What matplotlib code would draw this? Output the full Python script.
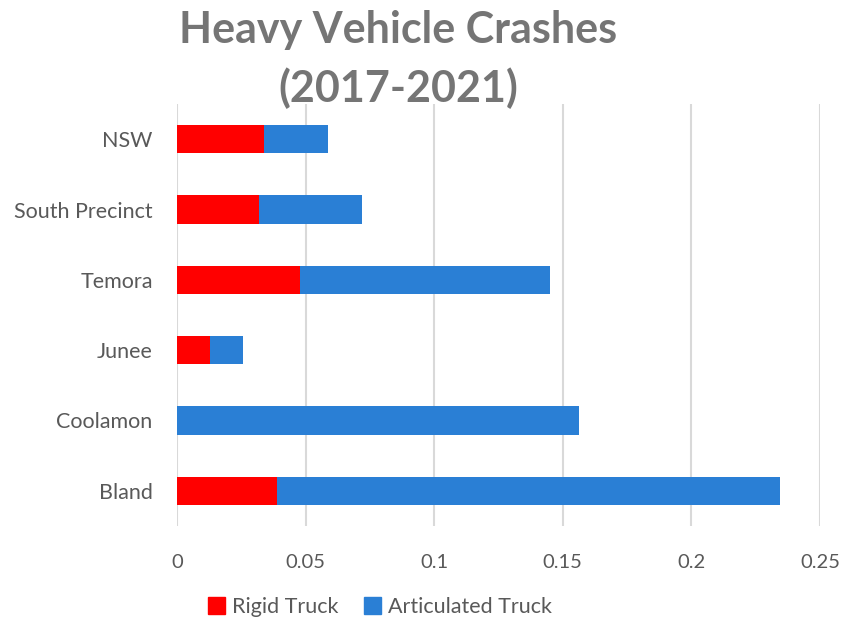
import matplotlib
matplotlib.use("Agg")
import matplotlib.pyplot as plt
from matplotlib.patches import Patch

categories = ["NSW", "South Precinct", "Temora", "Junee", "Coolamon", "Bland"]
rigid = [0.0337, 0.0317, 0.0478, 0.0127, 0.0, 0.0389]
articulated = [0.0251, 0.0401, 0.0971, 0.0131, 0.1563, 0.1955]
xticks = [0, 0.05, 0.1, 0.15, 0.2, 0.25]
xticklabels = ["0", "0.05", "0.1", "0.15", "0.2", "0.25"]

plt.rcParams['font.family'] = ['Lato', 'DejaVu Sans']

fig = plt.figure(figsize=(8.43, 6.21), dpi=100)
ax = fig.add_axes([177/843, (621-526)/621, (820-177)/843, 422/621])

y = list(range(len(categories)))
red = "#FF0000"
blue = "#2A7FD5"
ax.barh(y, rigid, height=0.4, color=red, zorder=3)
ax.barh(y, articulated, left=rigid, height=0.4, color=blue, zorder=3)

ax.set_ylim(len(categories) - 0.5, -0.5)
ax.set_xlim(0, 0.25)
ax.set_yticks(y)
ax.set_yticklabels(categories)
ax.set_xticks(xticks)
ax.set_xticklabels(xticklabels)
ax.tick_params(axis='both', length=0, colors="#595959")
ax.tick_params(axis='y', pad=17.5, labelsize=15.5)
ax.tick_params(axis='x', pad=20, labelsize=14.5)
ax.grid(axis='x', color="#D9D9D9", linewidth=1.5, zorder=0)
for s in ax.spines.values():
    s.set_visible(False)

fig.text(398/843, 1 - 30/621, "Heavy Vehicle Crashes", ha='center', va='center',
         fontsize=31, fontweight='bold', color="#757575")
fig.text(398/843, 1 - 88/621, "(2017-2021)", ha='center', va='center',
         fontsize=31, fontweight='bold', color="#757575")

handles = [Patch(color=red, label="Rigid Truck"), Patch(color=blue, label="Articulated Truck")]
fig.legend(handles=handles, loc='center', bbox_to_anchor=(380/843, 1 - 607/621), ncol=2,
           frameon=False, fontsize=15.5, labelcolor="#595959", handlelength=0.8,
           handleheight=0.8, handletextpad=0.3, columnspacing=1.2)

fig.savefig("out.png", dpi=100)
